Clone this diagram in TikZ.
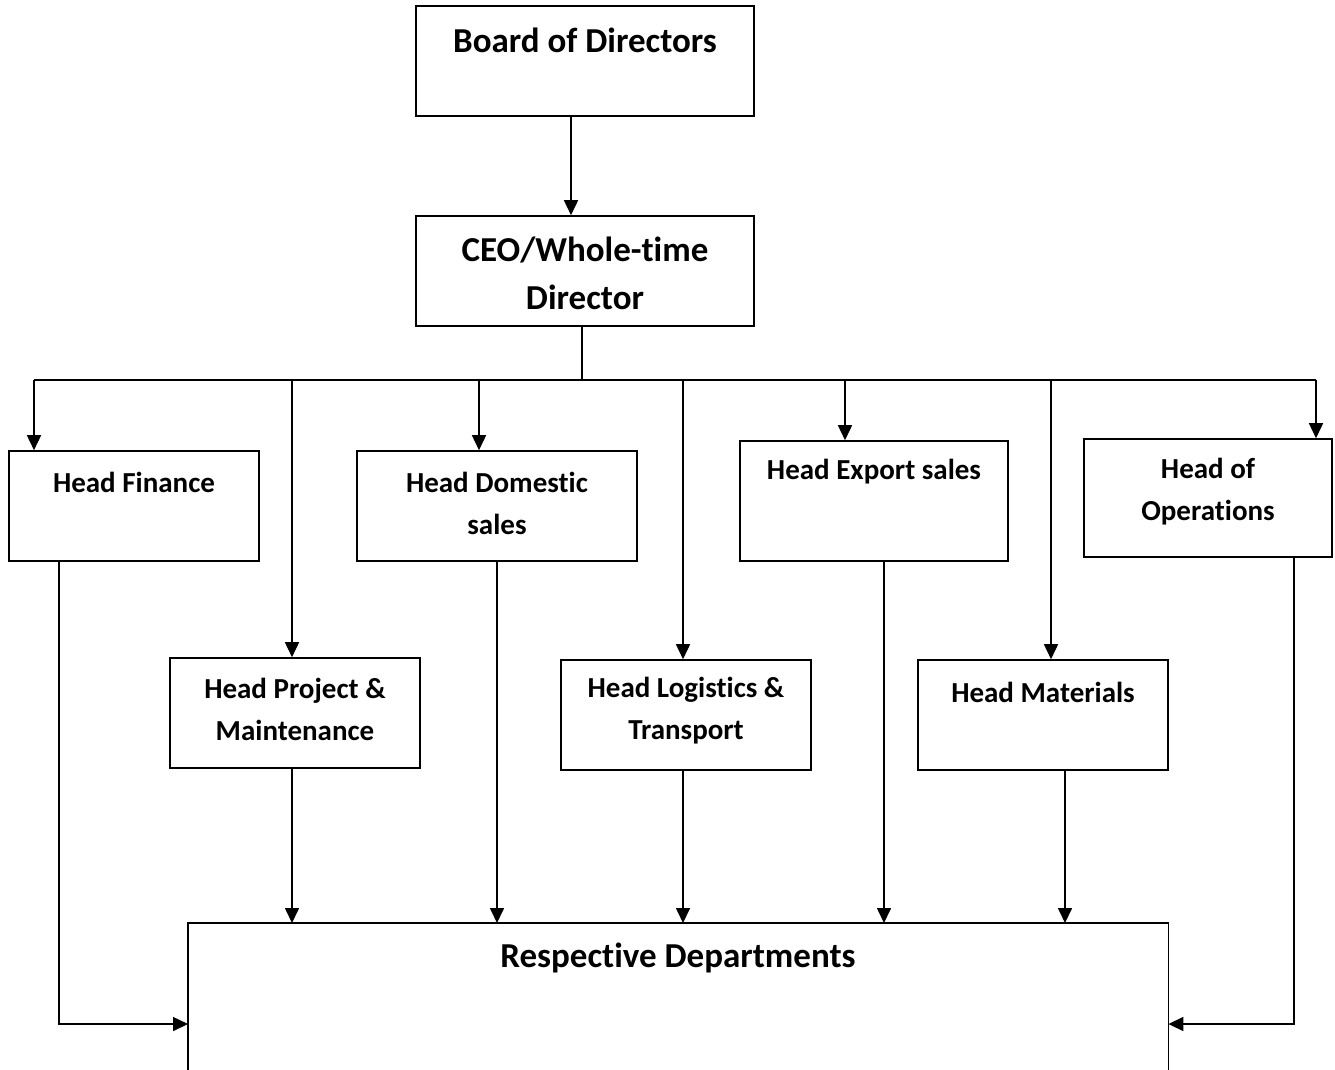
\documentclass[tikz,border=0pt]{standalone}
\usepackage{fontspec}
\setmainfont{Carlito}[RawFeature={-liga;-clig}]
\usetikzlibrary{arrows.meta}
\begin{document}
\begin{tikzpicture}[x=1pt,y=-1pt,
  box/.style={draw, line width=1.6pt, rectangle, inner sep=0pt},
  big/.style={font=\bfseries\fontsize{35}{48}\selectfont, align=center, inner sep=0pt},
  lbl/.style={font=\bfseries\fontsize{29}{42}\selectfont, align=center, inner sep=0pt},
  conn/.style={line width=1.6pt},
  arr/.style={line width=1.6pt, -{Triangle[length=15pt,width=14pt]}}]
\useasboundingbox (0,0) rectangle (1335,1069);
% boxes
\node[box, minimum width=338, minimum height=110] (bod) at (585,61) {};
\node[big] (bodt) at (585,40) {Board of Directors};
\node[box, minimum width=338, minimum height=110] (ceo) at (585,271) {};
\node[big] (ceot) at (585,273) {CEO/Whole-time\\Director};
\node[box, minimum width=250, minimum height=110] (fin) at (134,506) {};
\node[lbl] (fint) at (134,482) {Head Finance};
\node[box, minimum width=280, minimum height=110] (dom) at (497,506) {};
\node[lbl] (domt) at (497,503) {Head Domestic\\sales};
\node[box, minimum width=268, minimum height=120] (exp) at (874,501) {};
\node[lbl] (expt) at (874,472) {Head Export sales};
\node[box, minimum width=248, minimum height=118] (ops) at (1208,498) {};
\node[lbl] (opst) at (1208,492) {Head of\\Operations};
\node[box, minimum width=250, minimum height=110] (prj) at (295,713) {};
\node[lbl] (prjt) at (295,709) {Head Project \&\\Maintenance};
\node[box, minimum width=250, minimum height=110] (log) at (686,715) {};
\node[lbl] (logt) at (686,711) {Head Logistics \&\\Transport};
\node[box, minimum width=250, minimum height=110] (mat) at (1043,715) {};
\node[lbl] (matt) at (1043,692) {Head Materials};
\node[inner sep=0pt, minimum width=980, minimum height=150, anchor=north west] (dep) at (188,923) {};
\draw[conn] (dep.south west) |- (dep.north east) -- (dep.south east);
\node[big] (dept) at (678,958) {Respective Departments};
% connectors
\draw[arr] (bod.south -| 571,0) -- (ceo.north -| 571,0);
\coordinate (bus) at (582,380);
\coordinate (busL) at (34,380);
\coordinate (busR) at (1316,380);
\draw[conn] (ceo.south -| bus) -- (bus);
\draw[conn] (busL) -- (busR);
\draw[arr] (busL) -- (busL |- fin.north);
\draw[arr] (292,380) -- (prj.north -| 292,0);
\draw[arr] (479,380) -- (dom.north -| 479,0);
\draw[arr] (683,380) -- (log.north -| 683,0);
\draw[arr] (845,380) -- (exp.north -| 845,0);
\draw[arr] (1051,380) -- (mat.north -| 1051,0);
\draw[arr] (busR) -- (busR |- ops.north);
\draw[arr] (fin.south -| 59,0) |- (dep.west |- 0,1024);
\draw[arr] (ops.south -| 1294,0) |- (dep.east |- 0,1024);
\draw[arr] (prj.south -| 292,0) -- (dep.north -| 292,0);
\draw[arr] (dom.south -| 497,0) -- (dep.north -| 497,0);
\draw[arr] (log.south -| 683,0) -- (dep.north -| 683,0);
\draw[arr] (exp.south -| 884,0) -- (dep.north -| 884,0);
\draw[arr] (mat.south -| 1065,0) -- (dep.north -| 1065,0);
\end{tikzpicture}
\end{document}
